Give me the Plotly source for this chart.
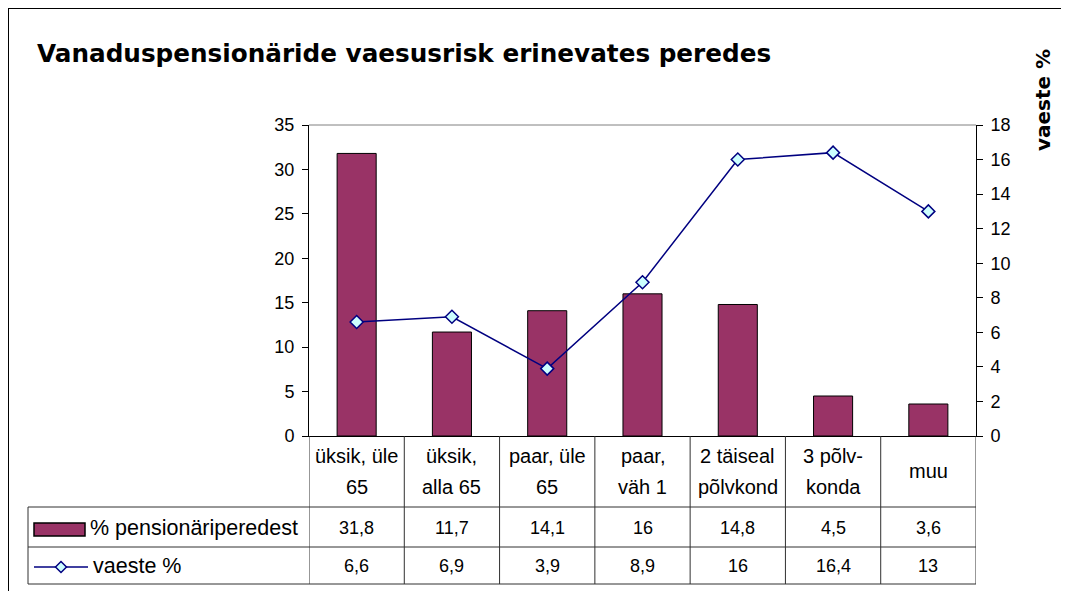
import plotly.graph_objects as go

# ---- data ----
categories = ["üksik, üle\n65", "üksik,\nalla 65", "paar, üle\n65", "paar,\nväh 1",
              "2 täiseal\npõlvkond", "3 põlv-\nkonda", "muu"]
pension_share = [31.8, 11.7, 14.1, 16, 14.8, 4.5, 3.6]
poor_share = [6.6, 6.9, 3.9, 8.9, 16, 16.4, 13]
series_names = ["% pensionäriperedest", "vaeste %"]
title_text = "Vanaduspensionäride vaesusrisk erinevates peredes"
right_title = "vaeste %"
left_ticks = [0, 5, 10, 15, 20, 25, 30, 35]
right_ticks = [0, 2, 4, 6, 8, 10, 12, 14, 16, 18]

BAR_COLOR = "#993366"
LINE_COLOR = "#000080"
FONT = "Liberation Sans, Arial, sans-serif"
TITLE_FONT = "DejaVu Sans, Liberation Sans, sans-serif"

OFF = 8  # page body margin offset of the plot div
W, H = 1069 - OFF, 599 - 2 * OFF
# plot area in screen pixels
L, R, T, B = 309, 976, 125, 436


def px(x):
    return (x - L) / (R - L)


def py(y):
    return (B - y) / (B - T)


cat_ids = list(range(len(categories)))

fig = go.Figure()
fig.add_trace(go.Bar(
    x=cat_ids, y=pension_share, name=series_names[0], width=0.41,
    marker=dict(color=BAR_COLOR, line=dict(color="black", width=1)),
    yaxis="y", showlegend=False))
fig.add_trace(go.Scatter(
    x=cat_ids, y=poor_share, name=series_names[1], mode="lines+markers",
    line=dict(color=LINE_COLOR, width=1.5),
    marker=dict(symbol="diamond", size=10, color="#CCFFFF",
                line=dict(color=LINE_COLOR, width=1.5)),
    yaxis="y2", showlegend=False))

axis_font = dict(family=FONT, size=18, color="black")
fig.update_layout(
    width=W, height=H,
    margin=dict(l=L - OFF, r=W + OFF - R, t=T - OFF, b=H + OFF - B, pad=0),
    paper_bgcolor="white", plot_bgcolor="white",
    font=dict(family=FONT, color="black"),
    xaxis=dict(range=[-0.5, len(categories) - 0.5], showticklabels=False,
               ticks="", showgrid=False, zeroline=False,
               showline=True, linecolor="black", linewidth=1),
    yaxis=dict(range=[0, 35], tickvals=left_ticks, ticks="outside", ticklen=6,
               tickcolor="black", showgrid=False, zeroline=False,
               showline=True, linecolor="black", linewidth=1,
               tickfont=axis_font, ticklabelstandoff=4),
    yaxis2=dict(range=[0, 18], tickvals=right_ticks, overlaying="y", side="right",
                ticks="outside", ticklen=6, tickcolor="black", showgrid=False,
                zeroline=False, showline=True, linecolor="black", linewidth=1,
                tickfont=axis_font, ticklabelstandoff=4),
    yaxis3=dict(range=[0, 35], tickvals=left_ticks, overlaying="y", side="left",
                ticks="inside", ticklen=6, tickcolor="black", showticklabels=False,
                showgrid=False, zeroline=False, showline=False),
    yaxis4=dict(range=[0, 18], tickvals=right_ticks, overlaying="y", side="right",
                ticks="inside", ticklen=6, tickcolor="black", showticklabels=False,
                showgrid=False, zeroline=False, showline=False),
    bargap=0.59,
)

shapes = []
annotations = []

# outer chart frame: only its top and left edges are inside the picture
shapes.append(dict(type="line", xref="paper", yref="paper",
                   x0=px(7), x1=px(1069 + 40), y0=py(8), y1=py(8),
                   line=dict(color="black", width=2)))
shapes.append(dict(type="line", xref="paper", yref="paper",
                   x0=px(8), x1=px(8), y0=py(7), y1=py(599 + 40),
                   line=dict(color="black", width=2)))
# top border of plot area (grey)
shapes.append(dict(type="line", xref="paper", yref="paper", x0=0, x1=1, y0=1, y1=1,
                   line=dict(color="#808080", width=1)))

# data table geometry (screen pixels)
TABLE_LEFT = 28
HEADER_BOTTOM = 507
ROW1_BOTTOM = 547
TABLE_BOTTOM = 584
tcol = "#303030"

n = len(categories)
for k in range(n + 1):
    shapes.append(dict(type="line", xref="x", yref="paper", x0=k - 0.5, x1=k - 0.5,
                       y0=py(B), y1=py(TABLE_BOTTOM), line=dict(color=tcol, width=1)))
shapes.append(dict(type="line", xref="paper", yref="paper", x0=px(TABLE_LEFT), x1=px(TABLE_LEFT),
                   y0=py(HEADER_BOTTOM), y1=py(TABLE_BOTTOM), line=dict(color=tcol, width=1)))
for yy in (HEADER_BOTTOM, ROW1_BOTTOM, TABLE_BOTTOM):
    shapes.append(dict(type="line", xref="paper", yref="paper", x0=px(TABLE_LEFT), x1=1,
                       y0=py(yy), y1=py(yy), line=dict(color=tcol, width=1)))

# legend keys in the table
shapes.append(dict(type="rect", xref="paper", yref="paper", x0=px(34), x1=px(85),
                   y0=py(523), y1=py(536), fillcolor=BAR_COLOR,
                   line=dict(color="black", width=1.5)))
ky = 567
shapes.append(dict(type="line", xref="paper", yref="paper", x0=px(34), x1=px(88),
                   y0=py(ky), y1=py(ky), line=dict(color=LINE_COLOR, width=1.5)))
cx, hw = 61, 5.5
path = "M {} {} L {} {} L {} {} L {} {} Z".format(
    px(cx - hw), py(ky), px(cx), py(ky - hw), px(cx + hw), py(ky), px(cx), py(ky + hw))
shapes.append(dict(type="path", xref="paper", yref="paper", path=path,
                   fillcolor="#CCFFFF", line=dict(color=LINE_COLOR, width=1.5)))

cat_font = dict(family=FONT, size=20, color="black")
num_font = dict(family=FONT, size=18, color="black")
lab_font = dict(family=FONT, size=21.5, color="black")

for i, c in enumerate(categories):
    lines = c.split("\n")
    if len(lines) == 1:
        annotations.append(dict(x=i, y=py(471), xref="x", yref="paper", text=lines[0],
                                showarrow=False, font=cat_font, xanchor="center", yanchor="middle"))
    else:
        for j, ln in enumerate(lines):
            annotations.append(dict(x=i, y=py(456 + 31 * j), xref="x", yref="paper", text=ln,
                                    showarrow=False, font=cat_font, xanchor="center", yanchor="middle"))


def fmt(v):
    return "{:g}".format(v).replace(".", ",")


for i in range(n):
    annotations.append(dict(x=i, y=py(528), xref="x", yref="paper", text=fmt(pension_share[i]),
                            showarrow=False, font=num_font, xanchor="center", yanchor="middle"))
    annotations.append(dict(x=i, y=py(566), xref="x", yref="paper", text=fmt(poor_share[i]),
                            showarrow=False, font=num_font, xanchor="center", yanchor="middle"))

annotations.append(dict(x=px(88), y=py(528), xref="paper", yref="paper", text=series_names[0],
                        showarrow=False, font=lab_font, xanchor="left", yanchor="middle"))
annotations.append(dict(x=px(91), y=py(566), xref="paper", yref="paper", text=series_names[1],
                        showarrow=False, font=lab_font, xanchor="left", yanchor="middle"))

# titles
annotations.append(dict(x=px(35), y=py(53), xref="paper", yref="paper", text="<b>" + title_text + "</b>",
                        showarrow=False, font=dict(family=TITLE_FONT, size=24.7, color="black"),
                        xanchor="left", yanchor="middle"))
annotations.append(dict(x=px(1043), y=py(100), xref="paper", yref="paper", text="<b>" + right_title + "</b>",
                        showarrow=False, textangle=-90, font=dict(family=TITLE_FONT, size=20, color="black"),
                        xanchor="center", yanchor="middle"))

fig.update_layout(shapes=shapes, annotations=annotations)
fig.write_html("out.html")
